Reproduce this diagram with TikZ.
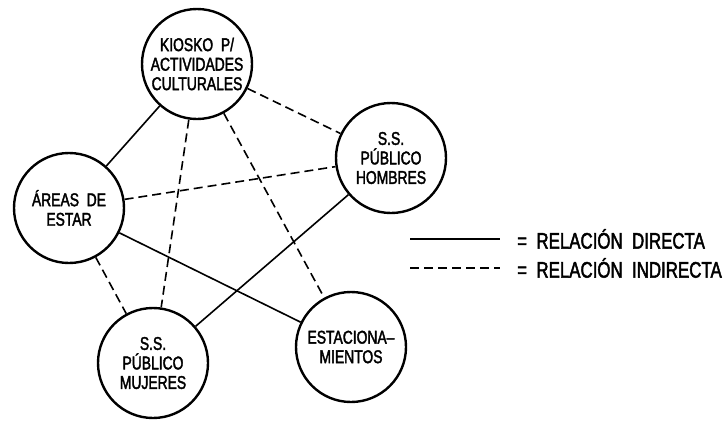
\documentclass[tikz,border=0pt]{standalone}
\usepackage{fontspec}
\setmainfont{Liberation Sans}[FakeStretch=0.75, FakeBold=2]
\usetikzlibrary{positioning}

\tikzset{
  lugar/.style={draw, circle, line width=2.4pt, minimum size=110pt, inner sep=0pt,
    align=center, font=\fontsize{18.5}{19.5}\selectfont},
  directa/.style={line width=1.6pt},
  indirecta/.style={line width=1.6pt, dash pattern=on 9pt off 5pt},
  leyenda/.style={font=\fontsize{22.5}{23}\selectfont, anchor=west, inner sep=0pt}
}

\begin{document}
\begin{tikzpicture}[x=1pt, y=-1pt]
  \useasboundingbox (0,0) rectangle (728,421);
  % espacios
  \node[lugar] (kiosko) at (197,64) {KIOSKO\ \ P/\\ACTIVIDADES\\CULTURALES};
  \node[lugar] (hombres) at (391,158) {S.S.\\P\'UBLICO\\HOMBRES};
  \node[lugar] (areas) at (69,208) {\'AREAS\ \ DE\\ESTAR};
  \node[lugar] (mujeres) at (153,363) {S.S.\\P\'UBLICO\\MUJERES};
  \node[lugar] (estac) at (351,347) {ESTACIONA--\\MIENTOS};
  % relaciones directas
  \draw[directa] (kiosko) -- (areas);
  \draw[directa] (areas) -- (estac);
  \draw[directa] (hombres) -- (mujeres);
  % relaciones indirectas
  \draw[indirecta] (kiosko) -- (hombres);
  \draw[indirecta] (areas) -- (hombres);
  \draw[indirecta] (kiosko) -- (mujeres);
  \draw[indirecta] (kiosko) -- (estac);
  \draw[indirecta] (areas) -- (mujeres);
  % leyenda
  \coordinate (d1) at (410,239);
  \coordinate (d2) at (500,239);
  \coordinate (i1) at (410,268);
  \coordinate (i2) at (500,268);
  \draw[directa] (d1) -- (d2);
  \draw[indirecta] (i1) -- (i2);
  \node[leyenda, right=17pt of d2] (ldir) {=\ \ RELACI\'ON\ \ DIRECTA};
  \node[leyenda, right=17pt of i2] (lind) {=\ \ RELACI\'ON\ \ INDIRECTA};
\end{tikzpicture}
\end{document}
